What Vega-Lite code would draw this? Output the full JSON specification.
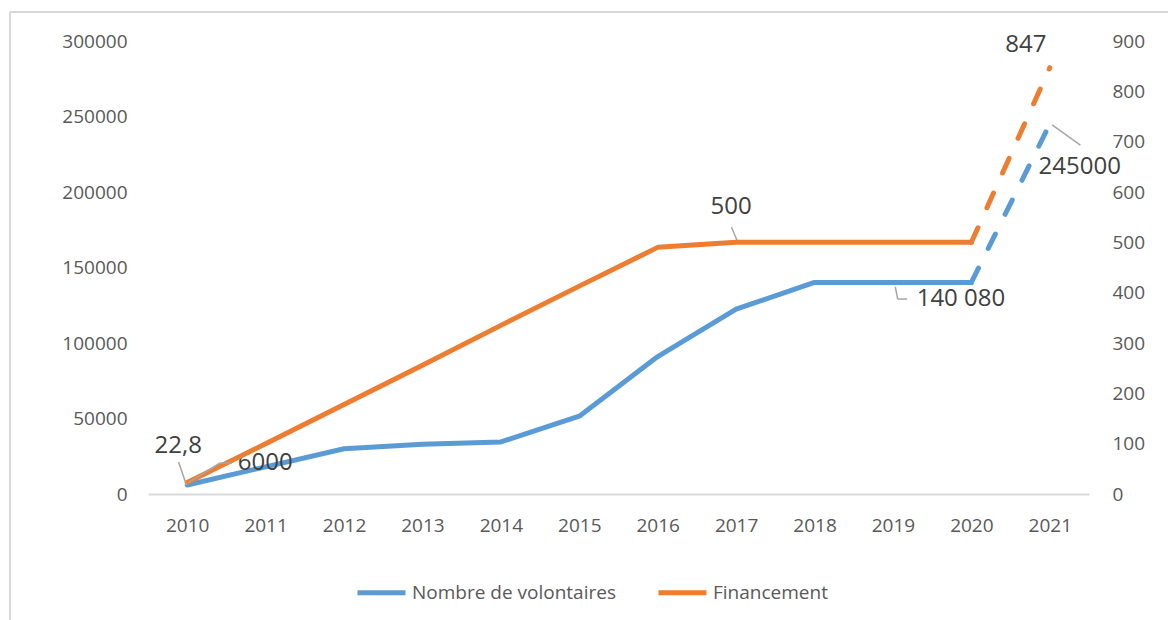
{
  "$schema": "https://vega.github.io/schema/vega-lite/v6.json",
  "width": 941,
  "height": 453,
  "autosize": {"type": "none"},
  "padding": {"left": 148, "top": 41, "right": 79, "bottom": 126},
  "background": "white",
  "config": {"view": {"stroke": null}, "font": "Open Sans"},
  "datasets": {
    "series": [
      {"year": 2010, "series": "Nombre de volontaires", "value": 6000},
      {"year": 2011, "series": "Nombre de volontaires", "value": 18000},
      {"year": 2012, "series": "Nombre de volontaires", "value": 30000},
      {"year": 2013, "series": "Nombre de volontaires", "value": 33000},
      {"year": 2014, "series": "Nombre de volontaires", "value": 34500},
      {"year": 2015, "series": "Nombre de volontaires", "value": 51500},
      {"year": 2016, "series": "Nombre de volontaires", "value": 91000},
      {"year": 2017, "series": "Nombre de volontaires", "value": 122500},
      {"year": 2018, "series": "Nombre de volontaires", "value": 140080},
      {"year": 2019, "series": "Nombre de volontaires", "value": 140080},
      {"year": 2020, "series": "Nombre de volontaires", "value": 140080},
      {"year": 2021, "series": "Nombre de volontaires", "value": 245000},
      {"year": 2010, "series": "Financement", "value": 22.8},
      {"year": 2011, "series": "Financement", "value": 100},
      {"year": 2012, "series": "Financement", "value": 178},
      {"year": 2013, "series": "Financement", "value": 256},
      {"year": 2014, "series": "Financement", "value": 335},
      {"year": 2015, "series": "Financement", "value": 413},
      {"year": 2016, "series": "Financement", "value": 490},
      {"year": 2017, "series": "Financement", "value": 500},
      {"year": 2018, "series": "Financement", "value": 500},
      {"year": 2019, "series": "Financement", "value": 500},
      {"year": 2020, "series": "Financement", "value": 500},
      {"year": 2021, "series": "Financement", "value": 847}
    ],
    "labels": [
      {"year": 2010, "series": "Financement", "value": 22.8, "label": "22,8"},
      {"year": 2010, "series": "Nombre de volontaires", "value": 6000, "label": "6000"},
      {"year": 2017, "series": "Financement", "value": 500, "label": "500"},
      {"year": 2019, "series": "Nombre de volontaires", "value": 140080, "label": "140 080"},
      {"year": 2021, "series": "Nombre de volontaires", "value": 245000, "label": "245000"},
      {"year": 2021, "series": "Financement", "value": 847, "label": "847"}
    ],
    "one": [{"k": 1}]
  },
  "layer": [
    {
      "layer": [
        {
          "data": {"name": "series"},
          "transform": [{"filter": "datum.series === 'Nombre de volontaires' && datum.year <= 2020"}],
          "mark": {"type": "line", "strokeWidth": 5, "strokeCap": "round", "strokeJoin": "round"},
          "encoding": {
            "x": {
              "field": "year", "type": "quantitative",
              "scale": {"domain": [2009.5, 2021.5], "nice": false, "zero": false},
              "axis": {
                "title": null, "values": [2010, 2011, 2012, 2013, 2014, 2015, 2016, 2017, 2018, 2019, 2020, 2021],
                "format": "d", "grid": false, "ticks": false, "tickSize": 0,
                "labelFontSize": 19, "labelColor": "#595959", "labelPadding": 22,
                "domainColor": "#D9D9D9", "domainWidth": 2, "labelFlush": false
              }
            },
            "y": {"field": "value", "type": "quantitative", "scale": {"domain": [0, 300000], "nice": false},
              "axis": {"title": null, "orient": "left", "values": [0, 50000, 100000, 150000, 200000, 250000, 300000], "format": "d",
                "grid": false, "ticks": false, "tickSize": 0, "domain": false, "labelFontSize": 19, "labelColor": "#595959", "labelPadding": 21}},
            "color": {"field": "series", "type": "nominal",
              "scale": {"domain": ["Nombre de volontaires", "Financement"], "range": ["#5B9BD5", "#ED7D31"]},
              "legend": {"title": null, "orient": "none", "legendX": 207, "legendY": 525, "direction": "horizontal",
                "symbolType": "stroke", "symbolSize": 2304, "symbolStrokeWidth": 5, "labelFontSize": 19, "labelLimit": 400,
                "labelColor": "#595959", "labelOffset": 4, "columnPadding": 32}}
          }
        },
        {
          "data": {"name": "series"},
          "transform": [{"filter": "datum.series === 'Nombre de volontaires' && datum.year >= 2020"}],
          "mark": {"type": "line", "strokeWidth": 5, "strokeCap": "round", "color": "#5B9BD5", "strokeDash": [16, 22]},
          "encoding": {
            "x": {"field": "year", "type": "quantitative", "scale": {"domain": [2009.5, 2021.5], "nice": false, "zero": false}},
            "y": {"field": "value", "type": "quantitative", "scale": {"domain": [0, 300000], "nice": false}}
          }
        },
        {
          "data": {"name": "labels"},
          "transform": [{"filter": "datum.label === '140 080'"}],
          "mark": {"type": "text", "fontSize": 24, "color": "#404040", "dx": 68, "dy": 17},
          "encoding": {
            "x": {"field": "year", "type": "quantitative", "scale": {"domain": [2009.5, 2021.5], "nice": false, "zero": false}},
            "y": {"field": "value", "type": "quantitative", "scale": {"domain": [0, 300000], "nice": false}}, "text": {"field": "label"}}
        },
        {
          "data": {"name": "labels"},
          "transform": [{"filter": "datum.label === '245000'"}],
          "mark": {"type": "text", "fontSize": 24, "color": "#404040", "dx": 30, "dy": 43},
          "encoding": {
            "x": {"field": "year", "type": "quantitative", "scale": {"domain": [2009.5, 2021.5], "nice": false, "zero": false}},
            "y": {"field": "value", "type": "quantitative", "scale": {"domain": [0, 300000], "nice": false}}, "text": {"field": "label"}}
        },
        {
          "data": {"name": "one"},
          "mark": {"type": "rule", "color": "#A6A6A6", "strokeWidth": 1.5},
          "encoding": {"x": {"datum": 2016.94, "type": "quantitative", "scale": {"domain": [2009.5, 2021.5], "nice": false, "zero": false}}, "y": {"datum": 176800, "type": "quantitative", "scale": {"domain": [0, 300000], "nice": false}}, "x2": {"datum": 2017.02}, "y2": {"datum": 166900}}
        },
        {
          "data": {"name": "one"},
          "mark": {"type": "rule", "color": "#A6A6A6", "strokeWidth": 1.5},
          "encoding": {"x": {"datum": 2019.03, "type": "quantitative", "scale": {"domain": [2009.5, 2021.5], "nice": false, "zero": false}}, "y": {"datum": 137100, "type": "quantitative", "scale": {"domain": [0, 300000], "nice": false}}, "x2": {"datum": 2019.06}, "y2": {"datum": 129100}}
        },
        {
          "data": {"name": "one"},
          "mark": {"type": "rule", "color": "#A6A6A6", "strokeWidth": 1.5},
          "encoding": {"x": {"datum": 2019.06, "type": "quantitative", "scale": {"domain": [2009.5, 2021.5], "nice": false, "zero": false}}, "y": {"datum": 129100, "type": "quantitative", "scale": {"domain": [0, 300000], "nice": false}}, "x2": {"datum": 2019.18}, "y2": {"datum": 129100}}
        },
        {
          "data": {"name": "one"},
          "mark": {"type": "rule", "color": "#A6A6A6", "strokeWidth": 1.5},
          "encoding": {"x": {"datum": 2021.03, "type": "quantitative", "scale": {"domain": [2009.5, 2021.5], "nice": false, "zero": false}}, "y": {"datum": 244400, "type": "quantitative", "scale": {"domain": [0, 300000], "nice": false}}, "x2": {"datum": 2021.39}, "y2": {"datum": 231100}}
        },
        {
          "data": {"name": "one"},
          "mark": {"type": "rule", "color": "#D9D9D9", "strokeWidth": 2},
          "encoding": {"x": {"datum": 2007.74, "type": "quantitative", "scale": {"domain": [2009.5, 2021.5], "nice": false, "zero": false}}, "y": {"datum": 319200, "type": "quantitative", "scale": {"domain": [0, 300000], "nice": false}}, "x2": {"datum": 2023.5}, "y2": {"datum": 319200}}
        },
        {
          "data": {"name": "one"},
          "mark": {"type": "rule", "color": "#D9D9D9", "strokeWidth": 2},
          "encoding": {"x": {"datum": 2007.74, "type": "quantitative", "scale": {"domain": [2009.5, 2021.5], "nice": false, "zero": false}}, "y": {"datum": 319200, "type": "quantitative", "scale": {"domain": [0, 300000], "nice": false}}, "x2": {"datum": 2007.74}, "y2": {"datum": -90000}}
        },
        {
          "data": {"name": "labels"},
          "transform": [{"filter": "datum.label === '6000'"}],
          "mark": {"type": "text", "fontSize": 24, "color": "#404040", "dx": 78, "dy": -22},
          "encoding": {
            "x": {"field": "year", "type": "quantitative", "scale": {"domain": [2009.5, 2021.5], "nice": false, "zero": false}},
            "y": {"field": "value", "type": "quantitative", "scale": {"domain": [0, 300000], "nice": false}}, "text": {"field": "label"}}
        }
      ]
    },
    {
      "layer": [
        {
          "data": {"name": "series"},
          "transform": [{"filter": "datum.series === 'Financement' && datum.year <= 2020"}],
          "mark": {"type": "line", "strokeWidth": 5, "strokeCap": "round", "strokeJoin": "round"},
          "encoding": {
            "x": {"field": "year", "type": "quantitative", "scale": {"domain": [2009.5, 2021.5], "nice": false, "zero": false}},
            "y": {"field": "value", "type": "quantitative", "scale": {"domain": [0, 900], "nice": false},
              "axis": {"title": null, "orient": "right", "values": [0, 100, 200, 300, 400, 500, 600, 700, 800, 900], "format": "d",
                "grid": false, "ticks": false, "tickSize": 0, "domain": false, "labelFontSize": 19, "labelColor": "#595959", "labelPadding": 23}},
            "color": {"field": "series", "type": "nominal"}
          }
        },
        {
          "data": {"name": "series"},
          "transform": [{"filter": "datum.series === 'Financement' && datum.year >= 2020"}],
          "mark": {"type": "line", "strokeWidth": 5, "strokeCap": "round", "color": "#ED7D31", "strokeDash": [16, 22]},
          "encoding": {
            "x": {"field": "year", "type": "quantitative", "scale": {"domain": [2009.5, 2021.5], "nice": false, "zero": false}},
            "y": {"field": "value", "type": "quantitative", "scale": {"domain": [0, 900], "nice": false}}
          }
        },
        {
          "data": {"name": "one"},
          "mark": {"type": "rule", "color": "#A6A6A6", "strokeWidth": 1.5},
          "encoding": {"x": {"datum": 2009.89, "type": "quantitative", "scale": {"domain": [2009.5, 2021.5], "nice": false, "zero": false}}, "y": {"datum": 63.6, "type": "quantitative", "scale": {"domain": [0, 900], "nice": false}}, "x2": {"datum": 2009.99}, "y2": {"datum": 17.9}}
        },
        {
          "data": {"name": "one"},
          "mark": {"type": "rule", "color": "#A6A6A6", "strokeWidth": 1.5},
          "encoding": {"x": {"datum": 2010.01, "type": "quantitative", "scale": {"domain": [2009.5, 2021.5], "nice": false, "zero": false}}, "y": {"datum": 21.9, "type": "quantitative", "scale": {"domain": [0, 900], "nice": false}}, "x2": {"datum": 2010.42}, "y2": {"datum": 61.6}}
        },
        {
          "data": {"name": "one"},
          "mark": {"type": "rule", "color": "#A6A6A6", "strokeWidth": 1.5},
          "encoding": {"x": {"datum": 2010.42, "type": "quantitative", "scale": {"domain": [2009.5, 2021.5], "nice": false, "zero": false}}, "y": {"datum": 61.6, "type": "quantitative", "scale": {"domain": [0, 900], "nice": false}}, "x2": {"datum": 2010.57}, "y2": {"datum": 61.6}}
        },
        {
          "data": {"name": "labels"},
          "transform": [{"filter": "datum.label === '22,8'"}],
          "mark": {"type": "text", "fontSize": 24, "color": "#404040", "dx": -9, "dy": -37},
          "encoding": {
            "x": {"field": "year", "type": "quantitative", "scale": {"domain": [2009.5, 2021.5], "nice": false, "zero": false}},
            "y": {"field": "value", "type": "quantitative", "scale": {"domain": [0, 900], "nice": false}}, "text": {"field": "label"}}
        },
        {
          "data": {"name": "labels"},
          "transform": [{"filter": "datum.label === '500'"}],
          "mark": {"type": "text", "fontSize": 24, "color": "#404040", "dx": -5, "dy": -35},
          "encoding": {
            "x": {"field": "year", "type": "quantitative", "scale": {"domain": [2009.5, 2021.5], "nice": false, "zero": false}},
            "y": {"field": "value", "type": "quantitative", "scale": {"domain": [0, 900], "nice": false}}, "text": {"field": "label"}}
        },
        {
          "data": {"name": "labels"},
          "transform": [{"filter": "datum.label === '847'"}],
          "mark": {"type": "text", "fontSize": 24, "color": "#404040", "dx": -24, "dy": -23},
          "encoding": {
            "x": {"field": "year", "type": "quantitative", "scale": {"domain": [2009.5, 2021.5], "nice": false, "zero": false}},
            "y": {"field": "value", "type": "quantitative", "scale": {"domain": [0, 900], "nice": false}}, "text": {"field": "label"}}
        }
      ]
    }
  ],
  "resolve": {"scale": {"y": "independent"}}
}
